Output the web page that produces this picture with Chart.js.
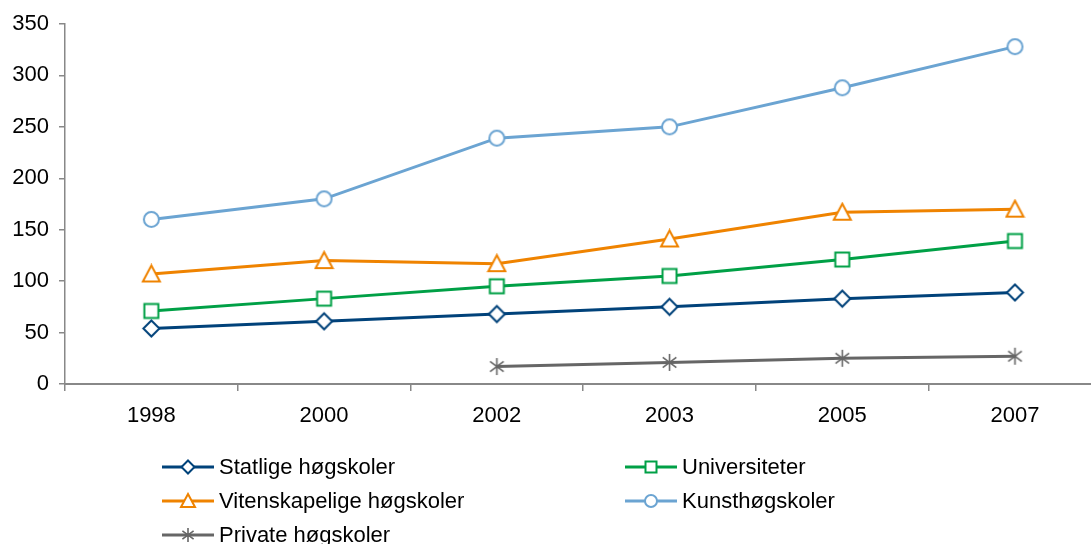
<!DOCTYPE html>
<html lang="no">
  <head>
    <meta charset="UTF-8" />
    <title>Høgskoler</title>
    <script src="https://cdn.jsdelivr.net/npm/chart.js@4.4.0/dist/chart.umd.min.js"></script>
    <style>
      body {
        margin: 0;
        padding: 0;
        overflow: hidden;
        background: #fff;
      }

      .chart-container {
        width: 1091px;
        height: 544px;
        position: relative;
      }
    </style>
  </head>

  <body>
    <div class="chart-container">
      <canvas id="chart"></canvas>
    </div>

    <script>
      // data
      var years = ["1998", "2000", "2002", "2003", "2005", "2007"];
      var statlige = [54, 61, 68, 75, 83, 89];
      var universiteter = [71, 83, 95, 105, 121, 139];
      var vitenskapelige = [107, 120, 117, 141, 167, 170];
      var kunst = [160, 180, 239, 250, 288, 328];
      var privat = [null, null, 17, 21, 25, 27];
      var yTicks = [0, 50, 100, 150, 200, 250, 300, 350];

      var FONT = "'Liberation Sans', Arial, sans-serif";
      var FONT_SIZE = 22;

      // draws a marker on its own small canvas so it can be used as pointStyle
      function makeMarker(type, color, size) {
        var c = document.createElement("canvas");
        var s = size + 4;
        c.width = s;
        c.height = s;
        var g = c.getContext("2d");
        var m = s / 2;
        var r = size / 2;
        g.strokeStyle = color;
        g.fillStyle = "#fff";
        g.lineWidth = 2;
        g.beginPath();
        if (type == "circle") {
          g.arc(m, m, r - 1, 0, Math.PI * 2);
        } else if (type == "square") {
          g.rect(m - r + 1.5, m - r + 1.5, size - 3, size - 3);
        } else if (type == "triangle") {
          g.moveTo(m, m - r);
          g.lineTo(m + r, m + r - 1);
          g.lineTo(m - r, m + r - 1);
          g.closePath();
        } else if (type == "diamond") {
          g.moveTo(m, m - r + 0.5);
          g.lineTo(m + r - 0.5, m);
          g.lineTo(m, m + r - 0.5);
          g.lineTo(m - r + 0.5, m);
          g.closePath();
        }
        if (type == "star") {
          g.lineWidth = 1.6;
          g.moveTo(m, m - r);
          g.lineTo(m, m + r);
          g.moveTo(m - r * 0.8, m - r * 0.6);
          g.lineTo(m + r * 0.8, m + r * 0.6);
          g.moveTo(m + r * 0.8, m - r * 0.6);
          g.lineTo(m - r * 0.8, m + r * 0.6);
          g.stroke();
        } else {
          g.fill();
          g.stroke();
        }
        return c;
      }

      var series = [
        { label: "Statlige høgskoler", data: statlige, color: "#00427a", marker: "diamond" },
        { label: "Universiteter", data: universiteter, color: "#00a046", marker: "square" },
        { label: "Vitenskapelige høgskoler", data: vitenskapelige, color: "#ef8300", marker: "triangle" },
        { label: "Kunsthøgskoler", data: kunst, color: "#6ba4d2", marker: "circle" },
        { label: "Private høgskoler", data: privat, color: "#666666", marker: "star" },
      ];

      // x is the category index, so the axis can run a bit past the right edge
      var datasets = series.map(function (s) {
        return {
          label: s.label,
          data: s.data.map(function (v, i) {
            return { x: i, y: v };
          }),
          borderColor: s.color,
          backgroundColor: s.color,
          borderWidth: 3,
          pointStyle: makeMarker(s.marker, s.color, 17),
          legendMarker: makeMarker(s.marker, s.color, 14),
          pointRadius: 8,
          pointHoverRadius: 8,
          tension: 0,
          spanGaps: false,
        };
      });

      // two-column legend under the plot, like the original
      var bottomLegend = {
        id: "bottomLegend",
        afterDraw: function (chart) {
          var ctx = chart.ctx;
          var colX = [162, 625];
          var rowY = [467, 501, 535];
          ctx.save();
          ctx.font = FONT_SIZE + "px " + FONT;
          ctx.textBaseline = "middle";
          ctx.fillStyle = "#000";
          chart.data.datasets.forEach(function (ds, i) {
            var x = colX[i % 2];
            var y = rowY[Math.floor(i / 2)];
            ctx.strokeStyle = ds.borderColor;
            ctx.lineWidth = 3;
            ctx.beginPath();
            ctx.moveTo(x, y);
            ctx.lineTo(x + 52, y);
            ctx.stroke();
            var mk = ds.legendMarker;
            ctx.drawImage(mk, x + 26 - mk.width / 2, y - mk.height / 2);
            ctx.fillText(ds.label, x + 57, y + 1);
          });
          ctx.restore();
        },
      };

      var ctx = document.getElementById("chart").getContext("2d");
      var myChart = new Chart(ctx, {
        type: "line",
        data: {
          datasets: datasets,
        },
        plugins: [bottomLegend],
        options: {
          responsive: true,
          maintainAspectRatio: false,
          animation: false,
          devicePixelRatio: 1,
          layout: {
            autoPadding: false,
            padding: { top: 24, bottom: 110, left: 0, right: 0 },
          },
          plugins: {
            legend: { display: false },
            tooltip: { enabled: false },
          },
          scales: {
            x: {
              type: "linear",
              min: -0.5,
              max: 5.44,
              afterBuildTicks: function (scale) {
                var t = [];
                for (var i = 0; i < years.length; i++) {
                  t.push({ value: i - 0.5 });
                  t.push({ value: i });
                }
                scale.ticks = t;
              },
              grid: {
                drawOnChartArea: false,
                tickLength: 7,
                lineWidth: 1.5,
                color: function (c) {
                  if (c.tick && Number.isInteger(c.tick.value)) return "rgba(0,0,0,0)";
                  return "#888";
                },
              },
              border: { color: "#888", width: 2 },
              ticks: {
                color: "#000",
                font: { size: FONT_SIZE, family: FONT },
                padding: 12,
                maxRotation: 0,
                autoSkip: false,
                callback: function (v) {
                  return Number.isInteger(v) ? years[v] : "";
                },
              },
              afterFit: function (scale) {
                scale.height = 50;
              },
            },
            y: {
              min: 0,
              max: 350,
              afterBuildTicks: function (scale) {
                scale.ticks = yTicks.map(function (v) {
                  return { value: v };
                });
              },
              grid: {
                drawOnChartArea: false,
                tickLength: 6,
                color: "#888",
                lineWidth: 1.5,
              },
              border: { color: "#888", width: 1.5 },
              ticks: {
                color: "#000",
                font: { size: FONT_SIZE, family: FONT },
                padding: 10,
              },
              afterFit: function (scale) {
                scale.width = 65;
              },
            },
          },
        },
      });
    </script>
  </body>
</html>
